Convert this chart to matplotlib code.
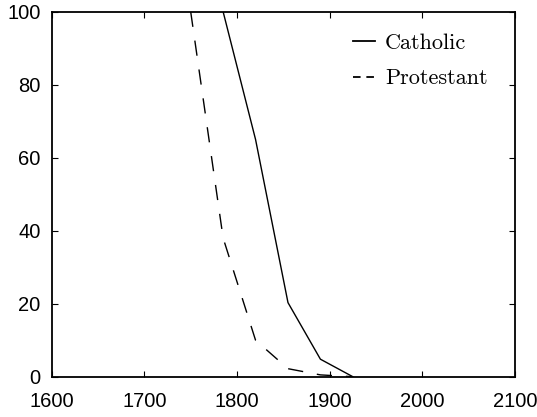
import matplotlib
matplotlib.use('Agg')
import matplotlib.pyplot as plt
from matplotlib.lines import Line2D

# data
years = [1750, 1785, 1820, 1855, 1890, 1925]
catholic = [None, 100, 65, 20.3, 4.8, 0]
protestant = [100, 38, 10, 2.2, 0.5, 0]

cat_x = [y for y, v in zip(years, catholic) if v is not None]
cat_y = [v for v in catholic if v is not None]

plt.rcParams['font.family'] = ['Liberation Sans', 'DejaVu Sans']

fig = plt.figure(figsize=(5.37, 4.17), dpi=100)
ax = fig.add_axes([0.0963, 0.0966, 0.8627, 0.8753])

ax.plot(cat_x, cat_y, color='black', lw=1.0)
ax.plot(years, protestant, color='black', lw=1.0, dashes=(11, 10))

ax.set_xlim(1600, 2100)
ax.set_ylim(0, 100)
ax.set_xticks([1600, 1700, 1800, 1900, 2000, 2100])
ax.set_yticks([0, 20, 40, 60, 80, 100])
ax.tick_params(direction='in', length=4, width=0.8, top=True, right=True,
               labelsize=14.5, color='black')
ax.tick_params(axis='x', pad=11)
ax.tick_params(axis='y', pad=8)
for s in ax.spines.values():
    s.set_linewidth(1.3)

# legend handles with a short dash like the original
h1 = Line2D([], [], color='black', lw=1.3)
h2 = Line2D([], [], color='black', lw=1.3, dashes=(4.2, 3.2))
ax.legend([h1, h2], ['Catholic', 'Protestant'], loc='upper left',
          bbox_to_anchor=(0.65, 0.94), frameon=False, borderpad=0,
          borderaxespad=0, handlelength=1.0, handletextpad=0.45,
          labelspacing=0.7, prop={'family': 'cmr10', 'size': 16})

fig.savefig('out.png', dpi=100)
